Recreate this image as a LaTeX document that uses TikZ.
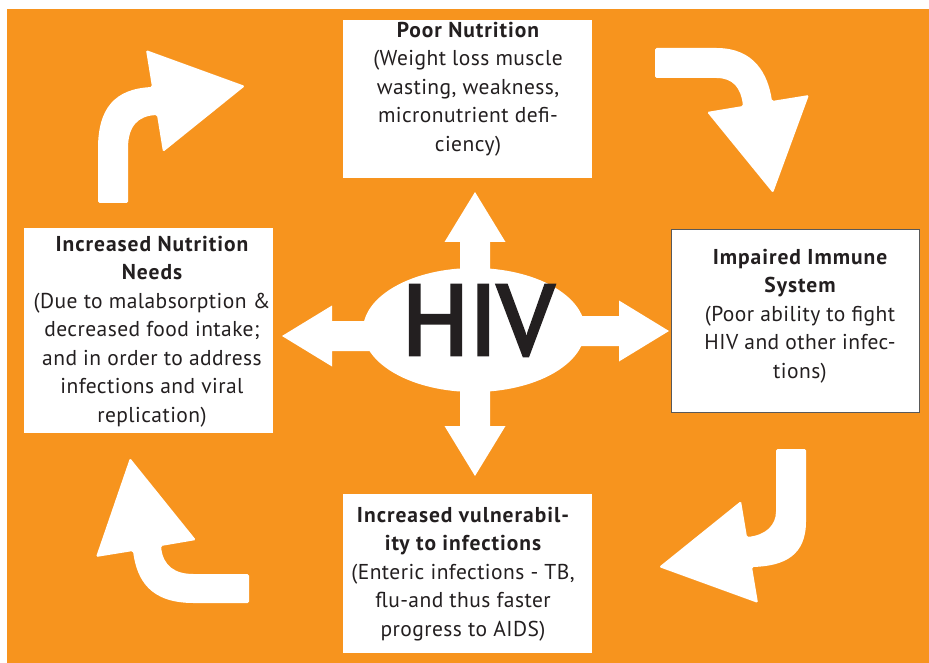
\documentclass[tikz,border=0pt]{standalone}
\usepackage{fontspec}
\setmainfont{PT Sans}
\usetikzlibrary{
    positioning,
    backgrounds,
    shapes.geometric
    }
\definecolor{hivorange}{RGB}{247,148,30}
\definecolor{ink}{RGB}{35,31,32}
\newcommand{\headline}[1]{{\bfseries\addfontfeature{LetterSpace=4.5}#1}}

\begin{document}
\begin{tikzpicture}[x=1pt, y=-1pt]
\tikzset{panel/.style =
        {
            rectangle,
            fill=white,
            inner sep=0pt,
            anchor=north west
        }
}

\tikzset{caption/.style =
        {
            text=ink,
            align=center,
            anchor=north,
            inner sep=0pt,
            font=\fontsize{21.5}{28.5}\selectfont\addfontfeature{LetterSpace=2}
        }
}

\tikzset{flow/.style =
        {
            fill=white,
            draw=none,
            rounded corners=1.5pt
        }
}

\tikzset{core/.style =
        {
            shape=ellipse,
            fill=white,
            inner sep=0pt,
            minimum width=222pt,
            minimum height=124pt
        }
}

		\useasboundingbox (0,0) rectangle (929,663);
		\fill[hivorange] (7,9) rectangle (929,663);

		\node[panel, minimum width=249pt, minimum height=158pt] at (343,20) (nutrition) {};
		\node[panel, minimum width=248pt, minimum height=183pt, draw=black!65, line width=0.8pt] at (671,229) (immune) {};
		\node[panel, minimum width=249pt, minimum height=159pt] at (343,494) (infect) {};
		\node[panel, minimum width=249pt, minimum height=205pt] at (24,228) (needs) {};

		\node[caption] at (468,22) (nutrition-text)
			{\headline{Poor Nutrition}\\(Weight loss muscle\\wasting, weakness,\\micronutrient defi-\\ciency)};
		\node[caption] at (800,249) (immune-text)
			{\headline{Impaired Immune}\\\headline{System}\\(Poor ability to fight\\HIV and other infec-\\tions)};
		\node[caption] at (463,507) (infect-text)
			{\headline{Increased vulnerabil-}\\\headline{ity to infections}\\(Enteric infections - TB,\\flu-and thus faster\\progress to AIDS)};
		\node[caption] at (152,236) (needs-text)
			{\headline{Increased Nutrition}\\\headline{Needs}\\(Due to malabsorption \&\\decreased food intake;\\and in order to address\\infections and viral\\replication)};

		\foreach \ang / \len / \bx / \by in
			{90/138/475/330,
				270/146/475/330,
				180/192/474/336,
				0/195/474/331}
		\fill[white, shift={(\bx,\by)}, rotate=\ang]
			(0,-15) -- (\len-50,-15) -- (\len-50,-30.5) -- (\len,0)
			-- (\len-50,30.5) -- (\len-50,15) -- (0,15) -- cycle;

		\node[core] at (474,330) (hiv) {};
		\node[text=ink, inner sep=0pt, font=\fontsize{99}{99}\selectfont\addfontfeature{FakeBold=3.5}] at (478,320.5) (hiv-label) {HIV};

		\fill[flow] (98,203) -- (98,150) .. controls (98,108) and (115,89) .. (152,87)
			-- (146,50) -- (245,86) -- (163,152) -- (157,115)
			.. controls (138,116) and (128,126) .. (128,150) -- (128,203) -- cycle;
		\fill[flow] (655,48) -- (715,48) .. controls (755,48) and (768,75) .. (772,101)
			-- (809,95) -- (773,193) -- (707,112) -- (743,106)
			.. controls (741,88) and (733,78) .. (715,78) -- (655,78) -- cycle;
		\fill[flow] (806,449) -- (806,520) .. controls (806,555) and (785,566) .. (752,567)
			-- (758,603) -- (659,567) -- (741,501) -- (747,537)
			.. controls (766,535) and (776,525) .. (776,510) -- (776,449) -- cycle;
		\fill[flow] (249,603) -- (195,603) .. controls (150,603) and (137,580) .. (133,551)
			-- (96,557) -- (130,458) -- (196,540) -- (161,546)
			.. controls (163,566) and (175,574) .. (195,574) -- (249,574) -- cycle;

	\end{tikzpicture}
\end{document}
